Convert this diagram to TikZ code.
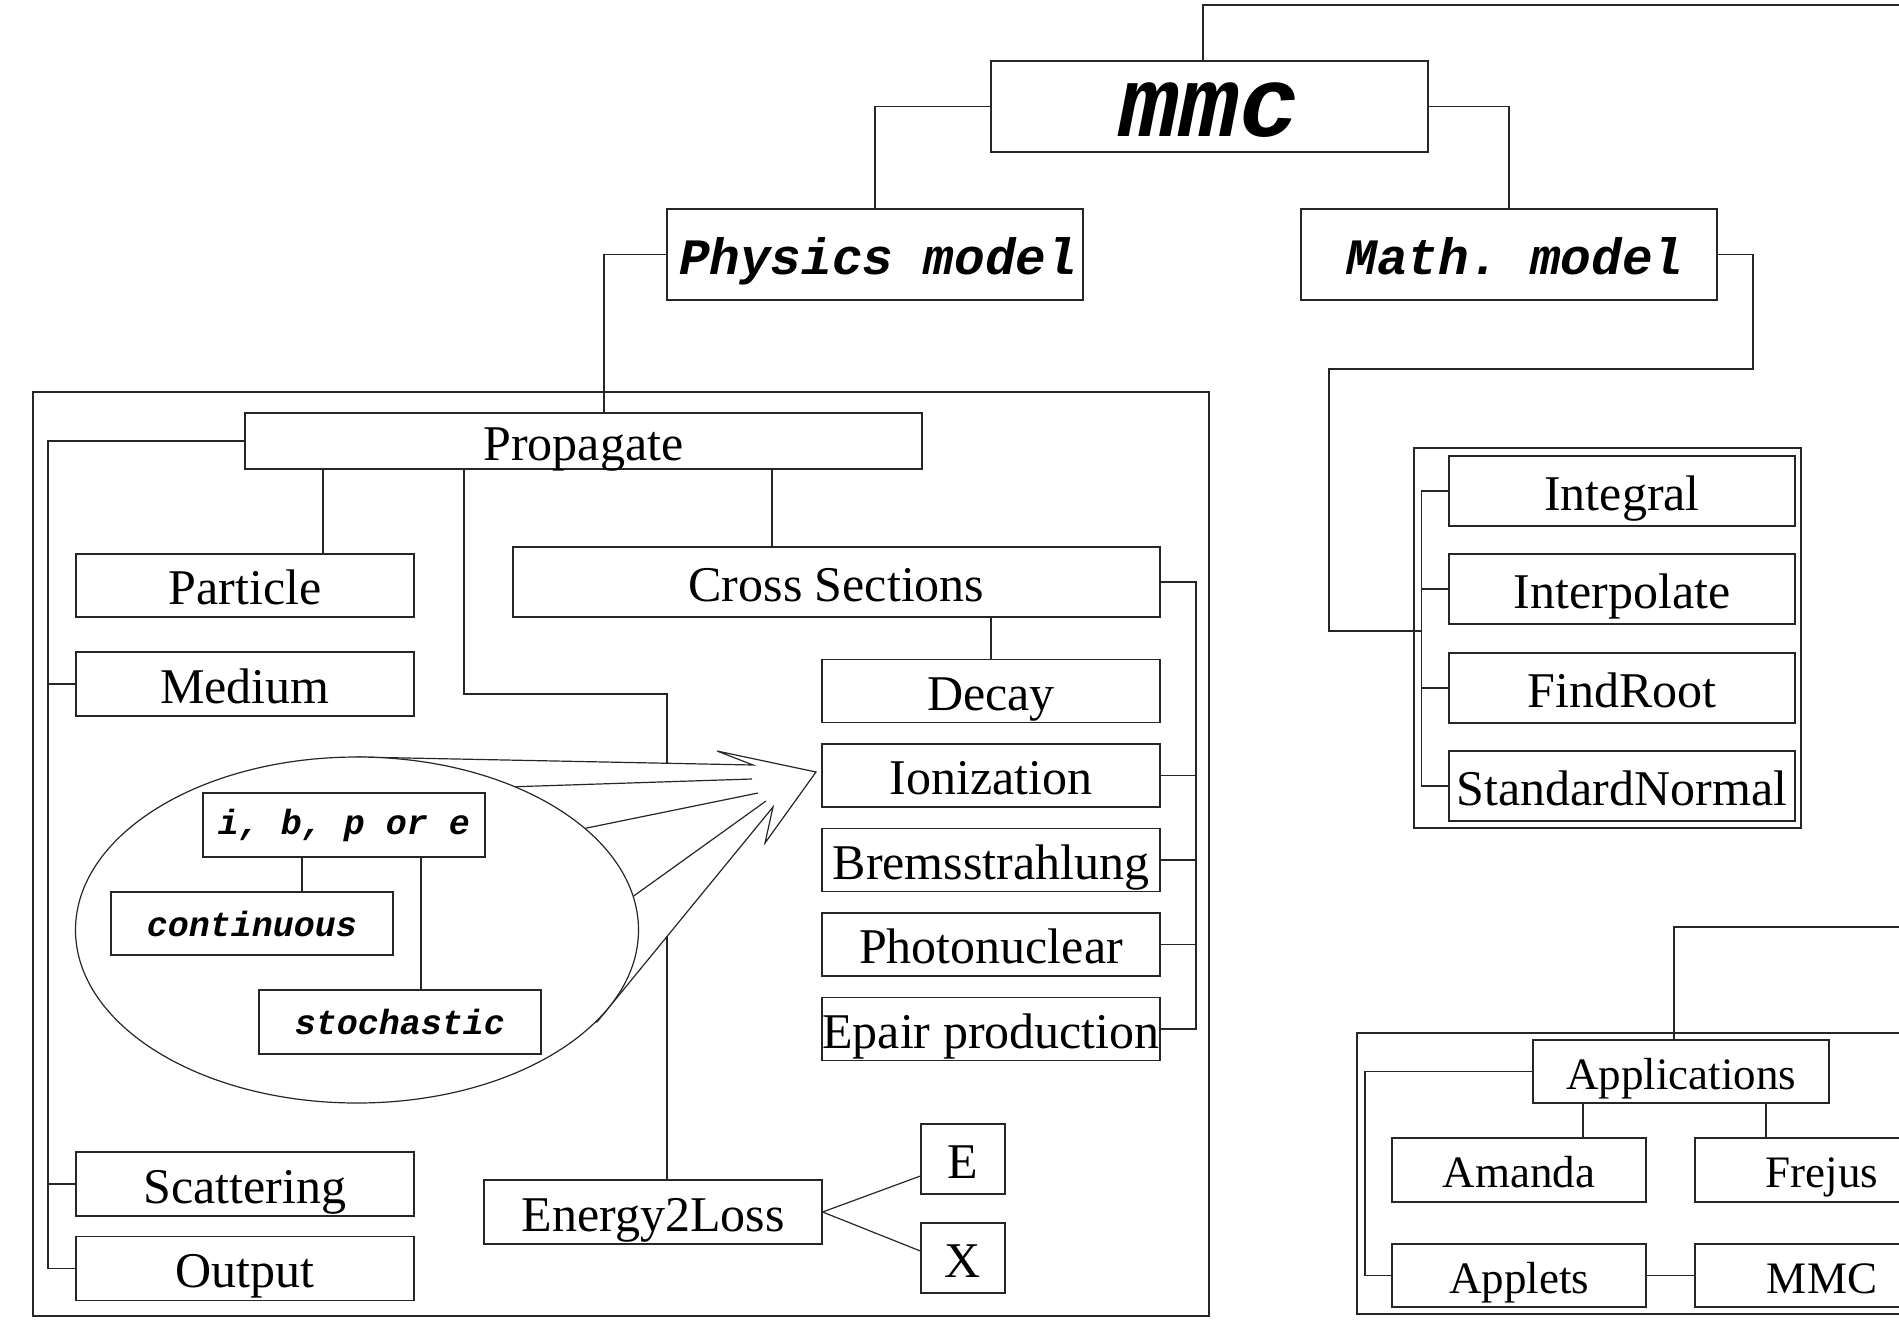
\documentclass[tikz,border=0pt]{standalone}
\usepackage{fontspec}
\setmainfont{Liberation Serif}
\setmonofont{Liberation Mono}
\usetikzlibrary{shapes.geometric}

\begin{document}
\begin{tikzpicture}[x=1pt, y=-1pt, line width=1.2pt, color=black!85,
    box/.style={draw, text=black, minimum width=338, minimum height=63,
      text height=38pt, text depth=0pt, font=\fontsize{50}{60}\selectfont},
    appbox/.style={box, minimum width=254, minimum height=64,
      text height=35pt, font=\fontsize{45}{54}\selectfont},
    codebox/.style={draw, text=black, minimum width=416, minimum height=91,
      text height=39pt, text depth=0pt,
      font=\fontsize{51}{61}\selectfont\ttfamily\bfseries\itshape},
    smallcode/.style={draw, text=black, minimum width=282, minimum height=64,
      font=\fontsize{35}{42}\selectfont\ttfamily\bfseries\itshape}]
  \tikzstyle{every node}+=[inner sep=0pt]
  \useasboundingbox (0,0) rectangle (1899,1320);
  \clip (0,0) rectangle (1899,1320);

  \draw (33,392) rectangle (1209,1316);
  \draw (1414,448) rectangle (1801,828);
  \draw (1357,1033) rectangle (1960,1314);

  \node[codebox, minimum width=437, text height=60pt,
    font=\fontsize{100}{110}\selectfont\ttfamily\bfseries\itshape] (mmc) at (1209.5,106.5) {mmc};
  \node[codebox] (phys) at (875,254.5) {\hspace*{6pt}Physics model};
  \node[codebox] (math) at (1509,254.5) {\hspace*{12pt}Math. model};

  \node[box, minimum width=677, minimum height=56] (propagate) at (583.5,441) {Propagate};
  \node[box] (particle) at (245,585.5) {Particle};
  \node[box, minimum height=64] (medium) at (245,684) {Medium};
  \node[box, minimum width=647, minimum height=70] (cross) at (836.5,582) {Cross Sections};
  \foreach \n/\y/\t in {decay/691/Decay, ioniz/775.5/Ionization, brems/860/Bremsstrahlung,
      photo/944.5/Photonuclear, epair/1029/Epair production}
    \node[box] (\n) at (991,\y) {\t};
  \node[box, minimum height=64] (scattering) at (245,1184) {Scattering};
  \node[box, minimum height=64] (output) at (245,1268.5) {Output};
  \node[box, minimum height=64] (energy) at (653,1212) {Energy2Loss};
  \node[box, minimum width=84, minimum height=70] (E) at (963,1159) {E};
  \node[box, minimum width=84, minimum height=70] (X) at (963,1258) {X};

  \foreach \n/\y/\t in {integral/491/Integral, interp/589/Interpolate,
      findroot/688/FindRoot, stdnorm/786/StandardNormal}
    \node[box, minimum width=346, minimum height=70] (\n) at (1622,\y) {\t};

  \node[appbox, minimum width=296, minimum height=63] (apps) at (1681,1071.5) {Applications};
  \node[appbox] (amanda) at (1519,1170) {Amanda};
  \node[appbox] (frejus) at (1822,1170) {Frejus};
  \node[appbox, minimum height=63] (applets) at (1519,1275.5) {Applets};
  \node[appbox, minimum height=63] (mmcapp) at (1822,1275.5) {MMC};

  \draw (mmc.north -| 1203,0) |- (1950,5);
  \draw (mmc.west) -| (phys.north);
  \draw (mmc.east) -| (math.north);

  \coordinate (mathjoin) at (1421.5,631);
  \draw (math.east) -| (1753,369) -| (1329,631) -- (mathjoin);
  \draw (integral.west) -- (1421.5,0 |- integral.west) |- (stdnorm.west);
  \foreach \n in {interp,findroot}
    \draw (\n.west) -- (1421.5,0 |- \n.west);

  \draw (phys.west) -| (604,0 |- propagate.north);
  \draw (propagate.west) -| (48,0 |- output.west) -- (output.west);
  \foreach \n in {medium,scattering}
    \draw (\n.west) -- (48,0 |- \n.west);
  \draw (323,0 |- propagate.south) -- (323,0 |- particle.north);
  \draw (772,0 |- propagate.south) -- (772,0 |- cross.north);
  \draw (decay.north) -- (decay.north |- cross.south);
  \draw (cross.east) -| (1196,0 |- epair.east) -- (epair.east);
  \foreach \n in {ioniz,brems,photo}
    \draw (\n.east) -- (1196,0 |- \n.east);
  \draw ([yshift=-17pt]E.west) -- (energy.east) -- ([yshift=7pt]X.west);

  \draw (apps.north -| 1674,0) |- (1950,927);
  \draw (apps.west) -| (1365,0 |- applets.west) -- (applets.west);
  \draw (1583,0 |- apps.south) -- (1583,0 |- amanda.north);
  \draw (1766,0 |- apps.south) -- (1766,0 |- frejus.north);
  \draw (applets) -- (mmcapp);

  \coordinate (ebend) at (667,694);
  \draw (464,0 |- propagate.south) |- (ebend) -- (667,0 |- energy.north);

  \coordinate (shafttop) at (357,757);
  \coordinate (barbin) at (753,765);
  \coordinate (barbup) at (717,751);
  \coordinate (tip) at (816,772);
  \coordinate (barbdown) at (765,843);
  \coordinate (barblow) at (773,807);
  \coordinate (shaftlow) at (597,1022);
  \filldraw[fill=white] (shafttop) -- (barbin) -- (barbup) -- (tip) -- (barbdown)
    -- (barblow) -- (shaftlow) -- (357,930) -- cycle;

  \node[draw, fill=white, ellipse, minimum width=563, minimum height=346] (zoomell) at (357,930) {};
  \coordinate (fan1) at (752,779);
  \coordinate (fan2) at (758,793);
  \coordinate (fan3) at (766,801);
  \draw (zoomell.42.7) -- (fan1);
  \draw (zoomell.24.3) -- (fan2);
  \draw (zoomell.7.8) -- (fan3);

  \node[smallcode] (ibpe) at (344,825) {i, b, p or e};
  \node[smallcode, minimum height=63] (cont) at (252,923.5) {continuous};
  \node[smallcode] (stoch) at (400,1022) {stochastic};
  \draw (302,0 |- ibpe.south) -- (302,0 |- cont.north);
  \draw (421,0 |- ibpe.south) -- (421,0 |- stoch.north);
\end{tikzpicture}
\end{document}
